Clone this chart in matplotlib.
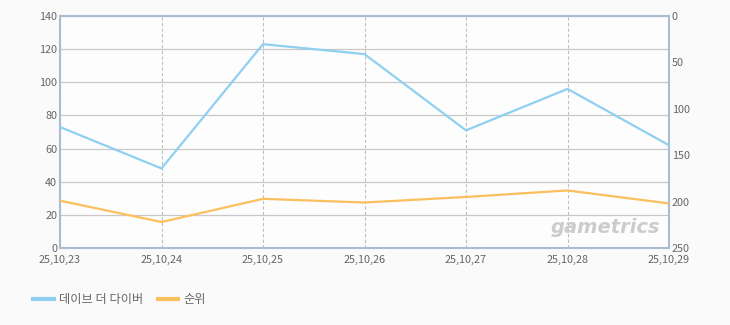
import matplotlib
matplotlib.use("Agg")
import matplotlib.pyplot as plt

plt.rcParams['font.family'] = ['Noto Sans CJK KR', 'DejaVu Sans']

# data
dates = ["25,10,23", "25,10,24", "25,10,25", "25,10,26", "25,10,27", "25,10,28", "25,10,29"]
players = [73, 48, 123, 117, 71, 96, 62]
rank = [199, 222, 197, 201, 195, 188, 202]
left_ticks = [0, 20, 40, 60, 80, 100, 120, 140]
right_ticks = [0, 50, 100, 150, 200, 250]

blue = "#8fd0f0"
orange = "#fbbf5e"
txt = "#666666"
spine = "#a9bcd3"

fig = plt.figure(figsize=(7.3, 3.25), dpi=100, facecolor="#fafafa")
ax = fig.add_axes([60 / 730, 1 - 248 / 325, 609 / 730, 232 / 325])
ax.set_facecolor("#fdfdfd")
x = list(range(len(dates)))

ax.plot(x, players, color=blue, linewidth=1.6, zorder=3)
ax.set_xlim(0, len(dates) - 1)
ax.set_ylim(0, 140)
ax.set_yticks(left_ticks)
ax.set_xticks(x)
ax.set_xticklabels(dates)
ax.grid(axis="y", color="#c8c8c8", linewidth=0.9)
ax.grid(axis="x", color="#c0c0c0", linewidth=0.8, linestyle=(0, (3, 2)))
ax.set_axisbelow(True)
ax.tick_params(length=0, labelsize=7.8, labelcolor=txt, pad=2)
ax.tick_params(axis="x", pad=5)
for s in ax.spines.values():
    s.set_color(spine)
    s.set_linewidth(1.5)

ax2 = ax.twinx()
ax2.plot(x, rank, color=orange, linewidth=1.6, zorder=3)
ax2.set_ylim(250, 0)
ax2.set_yticks(right_ticks)
ax2.tick_params(length=0, labelsize=7.8, labelcolor=txt, pad=2)
for s in ax2.spines.values():
    s.set_visible(False)

# watermark
ax.text(0.985, 0.09, "gametrics", transform=ax.transAxes, ha="right", va="center",
        fontsize=14, fontstyle="italic", fontweight="bold", color="#cccccc",
        family="DejaVu Sans", zorder=1)

# legend at the bottom
fig.legend(handles=[plt.Line2D([], [], color=blue, lw=3), plt.Line2D([], [], color=orange, lw=3)],
           labels=["데이브 더 다이버", "순위"], loc="center left", bbox_to_anchor=(22 / 730, 1 - 300 / 325),
           ncol=2, frameon=False, fontsize=8.8, labelcolor=txt, handlelength=1.7, handletextpad=0.4,
           columnspacing=1.2)

fig.savefig("out.png", dpi=100, facecolor=fig.get_facecolor())
